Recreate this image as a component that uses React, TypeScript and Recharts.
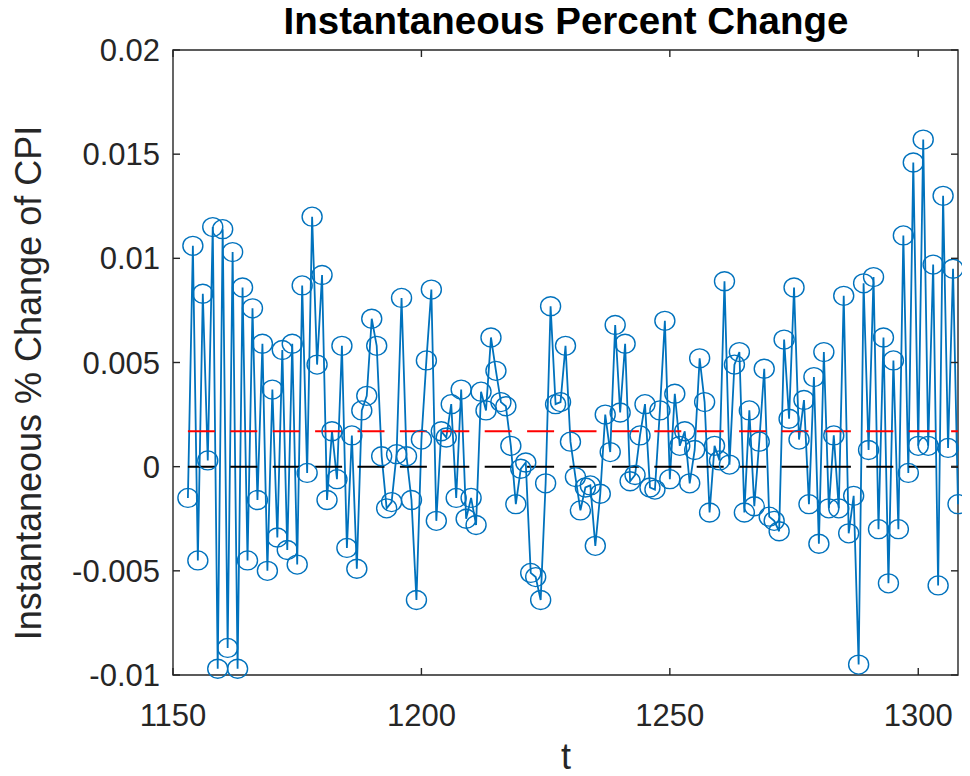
import React from 'react';
import { LineChart, Line, XAxis, YAxis, ReferenceLine, ReferenceArea } from 'recharts';

// t index of the first observation; one value per period after that
const firstPeriod = 1153;

const pctChange = [
  -0.0015, 0.0106, -0.0045, 0.0083, 0.0003, 0.0115, -0.0097, 0.0114, -0.0087, 0.0103,
  -0.0097, 0.0086, -0.0045, 0.0076, -0.0016, 0.0059, -0.005, 0.0037, -0.0034, 0.0056,
  -0.004, 0.0059, -0.0047, 0.0087, -0.0003, 0.012, 0.0049, 0.0092, -0.0016, 0.0017,
  -0.0006, 0.0058, -0.0039, 0.0015, -0.0049, 0.0027, 0.0034, 0.0071, 0.0058, 0.0005,
  -0.002, -0.0017, 0.0006, 0.0081, 0.0005, -0.0016, -0.0064, 0.0013, 0.0051, 0.0085,
  -0.0026, 0.0017, 0.0014, 0.003, -0.0015, 0.0037, -0.0025, -0.0015, -0.0028, 0.0036,
  0.0027, 0.0062, 0.0046, 0.0031, 0.0029, 0.001, -0.0018, -0.0001, 0.0002, -0.0051,
  -0.0053, -0.0064, -0.0008, 0.0077, 0.003, 0.0031, 0.0058, 0.0012, -0.0005, -0.0021,
  -0.001, -0.0009, -0.0038, -0.0013, 0.0025, 0.0007, 0.0068, 0.0026, 0.0059, -0.0007,
  -0.0004, 0.0015, 0.003, -0.001, -0.0011, 0.0027, 0.007, -0.0006, 0.0035, 0.001,
  0.0017, -0.0008, 0.0008, 0.0052, 0.0031, -0.0022, 0.001, 0.0003, 0.0089, 0.0001,
  0.0049, 0.0055, -0.0022, 0.0027, -0.0019, 0.0012, 0.0047, -0.0024, -0.0026, -0.0031,
  0.0061, 0.0023, 0.0086, 0.0013, 0.0032, -0.0018, 0.0043, -0.0037, 0.0055, -0.002,
  0.0015, -0.002, 0.0082, -0.0032, -0.0014, -0.0095, 0.0088, 0.0008, 0.0091, -0.003,
  0.0062, -0.0056, 0.0051, -0.003, 0.0111, -0.0003, 0.0146, 0.001, 0.0157, 0.001,
  0.0097, -0.0057, 0.013, 0.0009, 0.0095, -0.0018,
];

const meanLevel = 0.0017;
const zeroLevel = 0;

const xDomain = [1150, 1308];
const yDomain = [-0.01, 0.02];
const xTicks = [1150, 1200, 1250, 1300];
const yTicks = [-0.01, -0.005, 0, 0.005, 0.01, 0.015, 0.02];
const yTickLabels = ['-0.01', '-0.005', '0', '0.005', '0.01', '0.015', '0.02'];

const chartData = pctChange.map((v, i) => ({ t: firstPeriod + i, v }));
const lastPeriod = firstPeriod + pctChange.length - 1;

const FONT = '"Liberation Sans", Arial, Helvetica, sans-serif';
const AXIS = '#262626';
const BLUE = '#0072BD';

const W = 962;
const H = 768;
const MARGIN = { top: 42, right: 12, bottom: 41, left: 65 };
const Y_AXIS_W = 100;
const X_AXIS_H = 60;
const PLOT_W = W - MARGIN.left - MARGIN.right - Y_AXIS_W;
const PLOT_H = H - MARGIN.top - MARGIN.bottom - X_AXIS_H;
const TICK_LEN = 7;
const X_GAP = 29;
const Y_GAP = 13;

function CircleMarker(props: any) {
  const { cx, cy } = props;
  if (cx == null || cy == null) return null;
  return <ellipse cx={cx} cy={cy} rx={10} ry={9.5} fill="none" stroke={BLUE} strokeWidth={1.4} />;
}

// bottom tick label plus inward tick marks on the bottom and top edges
function XTick(props: any) {
  const { x, y, payload } = props;
  const axisY = y - X_GAP;
  return (
    <g>
      <line x1={x} x2={x} y1={axisY} y2={axisY - TICK_LEN} stroke={AXIS} strokeWidth={1.4} />
      <line x1={x} x2={x} y1={axisY - PLOT_H} y2={axisY - PLOT_H + TICK_LEN} stroke={AXIS} strokeWidth={1.4} />
      <text x={x} y={y} dy="0.71em" textAnchor="middle" fontSize={31} fill={AXIS} fontFamily={FONT}>
        {payload.value}
      </text>
    </g>
  );
}

// left tick label plus inward tick marks on the left and right edges
function YTick(props: any) {
  const { x, y, payload } = props;
  const axisX = x + Y_GAP;
  const idx = yTicks.indexOf(payload.value);
  return (
    <g>
      <line x1={axisX} x2={axisX + TICK_LEN} y1={y} y2={y} stroke={AXIS} strokeWidth={1.4} />
      <line x1={axisX + PLOT_W} x2={axisX + PLOT_W - TICK_LEN} y1={y} y2={y} stroke={AXIS} strokeWidth={1.4} />
      <text x={x} y={y} dy="0.355em" textAnchor="end" fontSize={31} fill={AXIS} fontFamily={FONT}>
        {idx >= 0 ? yTickLabels[idx] : payload.value}
      </text>
    </g>
  );
}

export default function App() {
  return (
    <div style={{ position: 'relative', width: W, height: H, fontFamily: FONT }}>
      <div
        style={{
          position: 'absolute', left: 558, top: -6, transform: 'translateX(-50%)',
          fontSize: 38.5, fontWeight: 'bold', lineHeight: 1, whiteSpace: 'nowrap', color: '#000',
        }}
      >
        Instantaneous Percent Change
      </div>
      <div
        style={{
          position: 'absolute', left: 20.5, top: 375, transform: 'translate(-50%, -50%) rotate(-90deg)',
          fontSize: 36, lineHeight: 1, whiteSpace: 'nowrap', color: AXIS,
        }}
      >
        Instantaneous % Change of CPI
      </div>
      <div
        style={{
          position: 'absolute', left: 558, top: 734, transform: 'translateX(-50%)',
          fontSize: 36, lineHeight: '30px', whiteSpace: 'nowrap', color: AXIS,
        }}
      >
        t
      </div>
      <LineChart width={W} height={H} data={chartData} margin={MARGIN}>
        <XAxis
          dataKey="t"
          type="number"
          domain={xDomain}
          ticks={xTicks}
          interval={0}
          height={X_AXIS_H}
          tickSize={0}
          tickLine={false}
          axisLine={false}
          tickMargin={X_GAP}
          tick={<XTick />}
        />
        <YAxis
          type="number"
          domain={yDomain}
          ticks={yTicks}
          interval={0}
          width={Y_AXIS_W}
          tickSize={0}
          tickLine={false}
          axisLine={false}
          tickMargin={Y_GAP}
          tick={<YTick />}
        />
        <Line
          type="linear"
          dataKey="v"
          stroke={BLUE}
          strokeWidth={1.8}
          dot={<CircleMarker />}
          activeDot={false}
          isAnimationActive={false}
        />
        <ReferenceLine
          segment={[{ x: firstPeriod, y: zeroLevel }, { x: lastPeriod, y: zeroLevel }]}
          stroke="#000"
          strokeWidth={2}
          strokeDasharray="27 15.4"
        />
        <ReferenceLine
          segment={[{ x: firstPeriod, y: meanLevel }, { x: lastPeriod, y: meanLevel }]}
          stroke="#FF0000"
          strokeWidth={2}
          strokeDasharray="27 15.4"
        />
        <ReferenceArea
          x1={xDomain[0]}
          x2={xDomain[1]}
          y1={yDomain[0]}
          y2={yDomain[1]}
          fill="none"
          fillOpacity={0}
          stroke={AXIS}
          strokeWidth={1.4}
        />
      </LineChart>
    </div>
  );
}
